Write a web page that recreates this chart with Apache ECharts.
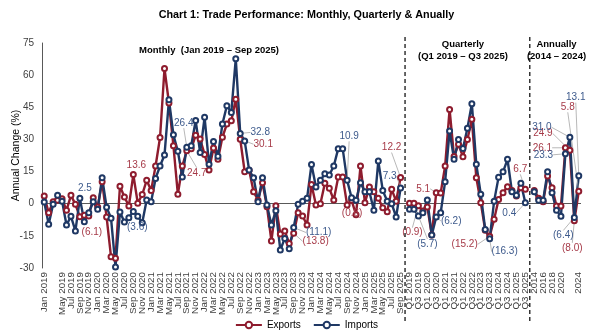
<!DOCTYPE html>
<html>
<head>
<meta charset="utf-8">
<script src="https://cdn.jsdelivr.net/npm/echarts@6/dist/echarts.min.js"></script>
<style>
  html, body { margin: 0; padding: 0; background: #ffffff; }
  #chart { width: 613px; height: 331px; }
</style>
</head>
<body>
<div id="chart"></div>
<script>
// ---- Period labels -------------------------------------------------------
const monthNames = ['Jan', 'Feb', 'Mar', 'Apr', 'May', 'Jun', 'Jul', 'Aug', 'Sep', 'Oct', 'Nov', 'Dec'];
const monthlyPeriods = [];
for (let y = 2019; y <= 2025; y++) {
  for (let m = 0; m < 12; m++) {
    if (y === 2025 && m > 8) break;
    monthlyPeriods.push(monthNames[m] + ' ' + y);
  }
}
const quarterlyPeriods = [];
for (let y = 2019; y <= 2025; y++) {
  for (let q = 1; q <= 4; q++) {
    if (y === 2025 && q > 3) break;
    quarterlyPeriods.push('Q' + q + ' ' + y);
  }
}
const annualPeriods = ['2014', '2015', '2016', '2017', '2018', '2019', '2020', '2021', '2022', '2023', '2024'];

// ---- Annual change (%) ---------------------------------------------------
const monthlyExports = [
  3.6, -4.2, 0.9, 1.6, 2.3, -3.1, 3.9, -0.3, -6.1, -5.4, -5.7, 2.8,
  -1.5, 10.3, -6.2, -24.8, -25.5, 8.2, 3.1, -1.1, 13.6, 0.2, 4.3, 10.9,
  6.2, 17.6, 30.9, 63.1, 47.0, 27.1, 4.4, 17.6, 24.7, 25.6, 32.0, 30.2,
  23.0, 15.7, 26.0, 20.7, 31.0, 37.2, 38.7, 48.8, 30.1, 14.9, 15.6, 5.6,
  1.6, 9.8, -1.4, -17.4, -0.9, -14.1, -12.7, -18.6, -13.8, -4.2, -5.7, -9.9,
  9.0, -0.6, 0.0, 9.5, 7.2, 1.7, 12.5, 12.5, -0.6, 1.6, -5.1, 17.6,
  0.5, 7.8, 5.6, 2.5, -1.9, -3.7, 6.7, 1.2, 12.2
];
const monthlyImports = [
  0.8, -9.6, -0.3, 4.0, 1.2, -9.9, -5.9, -12.7, 2.5, -8.4, -4.2, 0.9,
  -2.6, 12.1, -1.6, -6.8, -29.5, -3.9, -8.5, -6.5, -3.6, -5.9, -8.9, 1.7,
  0.9, 11.8, 17.6, 22.7, 48.5, 32.2, 24.5, 12.5, 26.4, 27.1, 38.8, 23.9,
  40.3, 18.4, 29.0, 22.2, 37.2, 45.7, 42.6, 67.7, 32.8, 29.3, 15.7, 12.1,
  0.9, 12.1, -0.6, -9.9, -3.3, -21.6, -16.2, -21.0, -11.1, -0.3, 1.2, 2.5,
  18.3, 7.8, 10.9, 14.0, 13.4, 17.6, 25.7, 25.7, 10.9, 2.8, 1.6, 9.8,
  5.6, 5.6, -3.1, 19.9, 6.2, 1.2, 0.0, -6.2, 7.3
];
const quarterlyExports = [
  0.2, 0.2, -0.9, -3.4, -1.5, -14.6, 5.1, 5.0,
  17.6, 44.0, 22.0, 27.7, 21.9, 30.0, 39.4, 12.1,
  0.5, -12.4, -15.2, -7.3, 2.0, 5.1, 7.9, 6.2,
  3.6, 7.5, 6.7
];
const quarterlyImports = [
  -2.6, -2.6, -5.7, -4.2, 1.7, -14.6, -6.2, -4.2,
  10.3, 33.9, 20.7, 30.0, 25.8, 35.2, 46.7, 18.4,
  4.4, -12.0, -16.3, 1.2, 12.4, 14.9, 20.7, 5.6,
  4.0, 9.5, 0.4
];
const annualExports = [6.2, 2.5, 0.9, 12.9, 7.5, -1.1, -1.1, 26.1, 24.9, -8.0, 5.8];
const annualImports = [5.6, 1.6, 1.6, 14.9, 5.1, -3.1, -5.8, 23.3, 31.0, -6.4, 13.1];

// ---- Axis layout: one empty slot separates the three blocks ----------------
const categories = monthlyPeriods.concat([' '], quarterlyPeriods, ['  '], annualPeriods);
const qStart = monthlyPeriods.length + 1;
const aStart = qStart + quarterlyPeriods.length + 1;
const separators = [monthlyPeriods.length, qStart + quarterlyPeriods.length];

// Value labels: which points are annotated and where the label sits (px offset).
const exportNotes = [
  { at: 8, dx: 12, dy: 15, line: false },
  { at: 20, dx: 3, dy: -9, line: false },
  { at: 32, dx: 10, dy: 22, line: true },
  { at: 44, dx: 23, dy: 5, line: true },
  { at: 56, dx: 22, dy: 8, line: true },
  { at: 68, dx: 5, dy: 8, line: false },
  { at: 80, dx: -9, dy: -30, line: true },
  { at: qStart + 2, dx: -6, dy: 27, line: true },
  { at: qStart + 6, dx: -13, dy: -4, line: true },
  { at: qStart + 18, dx: -25, dy: 8, line: true },
  { at: qStart + 26, dx: -5, dy: -20, line: true },
  { at: aStart + 7, dx: -23, dy: 0, line: true },
  { at: aStart + 8, dx: -27, dy: -17, line: true },
  { at: aStart + 9, dx: -2, dy: 27, line: true },
  { at: aStart + 10, dx: -11, dy: -84, line: true }
];
const importNotes = [
  { at: 8, dx: 5, dy: -10, line: false },
  { at: 20, dx: 4, dy: 16, line: false },
  { at: 32, dx: -3, dy: -24, line: true },
  { at: 44, dx: 20, dy: -1, line: true },
  { at: 56, dx: 25, dy: 5, line: true },
  { at: 68, dx: 2, dy: -44, line: true },
  { at: 80, dx: -11, dy: -12, line: true },
  { at: qStart + 2, dx: 9, dy: 28, line: true },
  { at: qStart + 6, dx: 15, dy: 4, line: true },
  { at: qStart + 18, dx: 15, dy: 13, line: true },
  { at: qStart + 26, dx: -16, dy: 10, line: true },
  { at: aStart + 7, dx: -22, dy: 1, line: true },
  { at: aStart + 8, dx: -28, dy: -10, line: true },
  { at: aStart + 9, dx: -11, dy: 18, line: true },
  { at: aStart + 10, dx: -3, dy: -78, line: true }
];

const EXPORT_COLOR = '#8E1C2E';
const IMPORT_COLOR = '#1F3864';
const FONT = "'Liberation Sans', Arial, sans-serif";

function fmt(v) {
  return v < 0 ? '(' + Math.abs(v).toFixed(1) + ')' : v.toFixed(1);
}

function buildSeriesData(monthly, quarterly, annual, notes, textColor) {
  const values = monthly.concat([null], quarterly, [null], annual);
  const data = values.map(v => v);
  notes.forEach(n => {
    data[n.at] = {
      value: values[n.at],
      label: { show: true, color: textColor },
      labelLine: { show: n.line }
    };
  });
  return data;
}

function layoutFor(notes) {
  const map = {};
  notes.forEach(n => { map[n.at] = n; });
  return function (params) {
    const n = map[params.dataIndex];
    return n ? { dx: n.dx, dy: n.dy } : {};
  };
}

function lineSeries(name, color, labelColor, data, notes, extra) {
  return Object.assign({
    name: name,
    type: 'line',
    data: data,
    connectNulls: false,
    symbol: 'emptyCircle',
    symbolSize: 5,
    showAllSymbol: true,
    lineStyle: { color: color, width: 2.4 },
    itemStyle: { color: color, borderColor: color, borderWidth: 1.3 },
    emphasis: { disabled: true },
    label: {
      show: false,
      position: 'inside',
      formatter: p => fmt(p.value),
      fontFamily: FONT,
      fontSize: 10,
      color: labelColor
    },
    labelLine: {
      show: false,
      length2: 0,
      lineStyle: { color: '#A6A6A6', width: 0.8 }
    },
    labelLayout: layoutFor(notes),
    z: 3
  }, extra || {});
}

const chart = echarts.init(document.getElementById('chart'), null, { renderer: 'canvas' });

const option = {
  animation: false,
  backgroundColor: '#ffffff',
  textStyle: { fontFamily: FONT },
  title: {
    text: 'Chart 1: Trade Performance: Monthly, Quarterly & Anually',
    left: 'center',
    top: 5,
    textStyle: { fontFamily: FONT, fontSize: 10.8, fontWeight: 'bold', color: '#000000' }
  },
  legend: {
    bottom: -4,
    left: 'center',
    itemWidth: 26,
    itemHeight: 8,
    itemGap: 12,
    textStyle: { fontFamily: FONT, fontSize: 10, color: '#000000' },
    data: ['Exports', 'Imports']
  },
  grid: { left: 42, right: 32, top: 43, bottom: 63, containLabel: false, outerBoundsMode: 'none' },
  xAxis: {
    type: 'category',
    data: categories,
    boundaryGap: true,
    axisLine: { show: false, onZero: false },
    axisTick: { show: false },
    axisLabel: {
      interval: idx => idx % 2 === 0,
      showMinLabel: true,
      showMaxLabel: true,
      hideOverlap: false,
      rotate: 90,
      fontFamily: FONT,
      fontSize: 9.8,
      lineHeight: 7,
      color: '#404040',
      margin: 4
    },
    splitLine: { show: false }
  },
  yAxis: {
    type: 'value',
    min: -30,
    max: 75,
    interval: 15,
    name: 'Annual Change (%)',
    nameLocation: 'middle',
    nameGap: 20,
    nameMoveOverlap: false,
    nameTextStyle: { fontFamily: FONT, fontSize: 10.5, color: '#000000' },
    axisLine: { show: true, lineStyle: { color: '#595959', width: 1 } },
    axisTick: { show: false },
    axisLabel: { fontFamily: FONT, fontSize: 10, color: '#404040', margin: 8 },
    splitLine: { show: false }
  },
  series: [
    lineSeries('Exports', EXPORT_COLOR, '#A63A48',
      buildSeriesData(monthlyExports, quarterlyExports, annualExports, exportNotes, '#A63A48'),
      exportNotes,
      {
        markLine: {
          silent: true,
          symbol: 'none',
          label: { show: false },
          lineStyle: { color: '#595959', width: 1, type: 'solid' },
          data: [{ yAxis: 0 }],
          z: 1
        }
      }),
    lineSeries('Imports', IMPORT_COLOR, '#3D5A8C',
      buildSeriesData(monthlyImports, quarterlyImports, annualImports, importNotes, '#3D5A8C'),
      importNotes)
  ]
};

chart.setOption(option);

// Block separators and block headings, placed from the category axis.
const sepX = separators.map(i => chart.convertToPixel({ xAxisIndex: 0 }, i));
const graphics = sepX.map(x => ({
  type: 'line',
  silent: true,
  shape: { x1: x, y1: 37, x2: x, y2: 323 },
  style: { stroke: '#262626', lineWidth: 1.4, lineDash: [4, 3] },
  z: 10
}));
const headStyle = { fontFamily: FONT, fontSize: 9.5, fontWeight: 'bold', fill: '#000000', textAlign: 'center', textVerticalAlign: 'middle' };
const monthMid = chart.convertToPixel({ xAxisIndex: 0 }, 36.6);
const qMid = chart.convertToPixel({ xAxisIndex: 0 }, qStart + 11.6);
const aMid = chart.convertToPixel({ xAxisIndex: 0 }, aStart + 5.0);
graphics.push(
  { type: 'text', silent: true, x: monthMid, y: 50, style: Object.assign({ text: 'Monthly  (Jan 2019 \u2013 Sep 2025)' }, headStyle) },
  { type: 'text', silent: true, x: qMid, y: 44, style: Object.assign({ text: 'Quarterly' }, headStyle) },
  { type: 'text', silent: true, x: qMid, y: 56, style: Object.assign({ text: '(Q1 2019 \u2013 Q3 2025)' }, headStyle) },
  { type: 'text', silent: true, x: aMid, y: 44, style: Object.assign({ text: 'Annually' }, headStyle) },
  { type: 'text', silent: true, x: aMid, y: 56, style: Object.assign({ text: '(2014 \u2013 2024)' }, headStyle) }
);
chart.setOption({ graphic: graphics });
</script>
</body>
</html>
